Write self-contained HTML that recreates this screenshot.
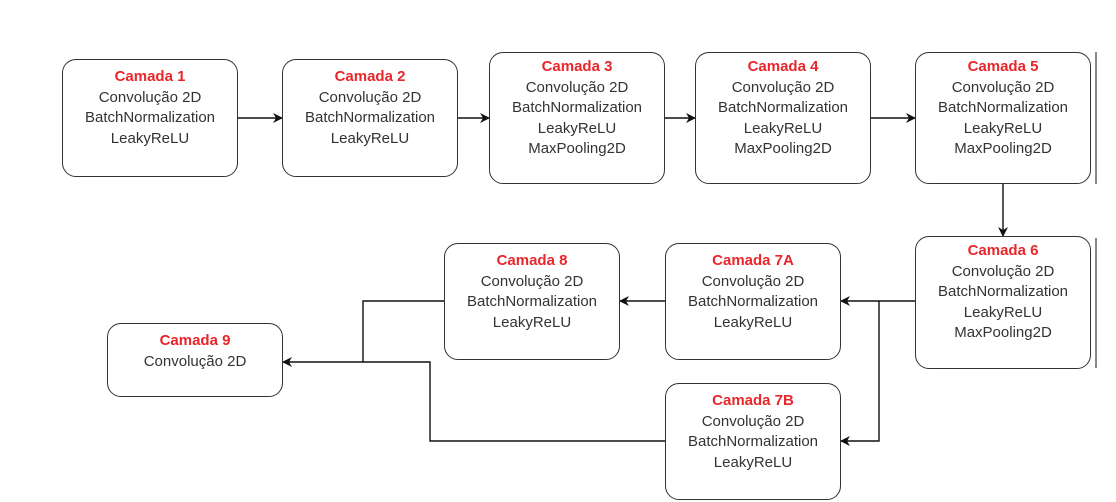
<!DOCTYPE html>
<html><head><style>
body{margin:0;width:1116px;height:502px;background:#fff;position:relative;overflow:hidden;font-family:"Liberation Sans",sans-serif}
.b{position:absolute;box-sizing:border-box;border:1.6px solid #333;border-radius:14px;background:#fff;text-align:center;font-size:15px;line-height:20.5px;color:#333}
.b b{color:#e8262b;display:block}
svg{position:absolute;left:0;top:0}
</style></head><body>
<svg width="1116" height="502">
<defs><marker id="a" markerWidth="10" markerHeight="10" refX="9" refY="5" orient="auto" markerUnits="userSpaceOnUse"><path d="M0,0 L10,5 L0,10 L3,5z" fill="#111"/></marker></defs>
<g stroke="#111" stroke-width="1.4" fill="none">
<path d="M238 118H282" marker-end="url(#a)"/>
<path d="M458 118H489" marker-end="url(#a)"/>
<path d="M665 118H695" marker-end="url(#a)"/>
<path d="M871 118H915" marker-end="url(#a)"/>
<path d="M1003 184V236" marker-end="url(#a)"/>
<path d="M915 301H841" marker-end="url(#a)"/>
<path d="M879 301V441H841" marker-end="url(#a)"/>
<path d="M665 301H620" marker-end="url(#a)"/>
<path d="M444 301H363V362H283" marker-end="url(#a)"/>
<path d="M665 441H430V362H363"/>
<path d="M1096 52V184M1096 238V368" stroke="#555"/>
</g></svg>
<div class="b" style="left:62px;top:59px;width:176px;height:118px;padding-top:7px"><b>Camada 1</b>Convolução 2D<br>BatchNormalization<br>LeakyReLU</div>
<div class="b" style="left:282px;top:59px;width:176px;height:118px;padding-top:7px"><b>Camada 2</b>Convolução 2D<br>BatchNormalization<br>LeakyReLU</div>
<div class="b" style="left:489px;top:52px;width:176px;height:132px;padding-top:4px"><b>Camada 3</b>Convolução 2D<br>BatchNormalization<br>LeakyReLU<br>MaxPooling2D</div>
<div class="b" style="left:695px;top:52px;width:176px;height:132px;padding-top:4px"><b>Camada 4</b>Convolução 2D<br>BatchNormalization<br>LeakyReLU<br>MaxPooling2D</div>
<div class="b" style="left:915px;top:52px;width:176px;height:132px;padding-top:4px"><b>Camada 5</b>Convolução 2D<br>BatchNormalization<br>LeakyReLU<br>MaxPooling2D</div>
<div class="b" style="left:915px;top:236px;width:176px;height:133px;padding-top:4px"><b>Camada 6</b>Convolução 2D<br>BatchNormalization<br>LeakyReLU<br>MaxPooling2D</div>
<div class="b" style="left:665px;top:243px;width:176px;height:117px;padding-top:7px"><b>Camada 7A</b>Convolução 2D<br>BatchNormalization<br>LeakyReLU</div>
<div class="b" style="left:665px;top:383px;width:176px;height:117px;padding-top:7px"><b>Camada 7B</b>Convolução 2D<br>BatchNormalization<br>LeakyReLU</div>
<div class="b" style="left:444px;top:243px;width:176px;height:117px;padding-top:7px"><b>Camada 8</b>Convolução 2D<br>BatchNormalization<br>LeakyReLU</div>
<div class="b" style="left:107px;top:323px;width:176px;height:74px;padding-top:7px"><b>Camada 9</b>Convolução 2D</div>
</body></html>
